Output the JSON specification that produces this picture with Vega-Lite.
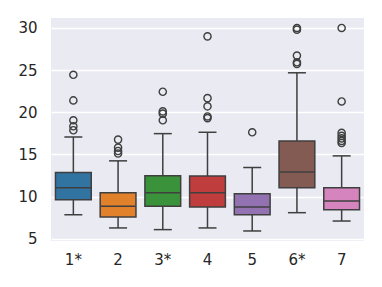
{
  "$schema": "https://vega.github.io/schema/vega-lite/v6.json",
  "width": 313,
  "height": 223,
  "autosize": {"type": "none"},
  "padding": {"left": 51, "top": 18, "right": 18, "bottom": 46},
  "background": "white",
  "config": {
    "view": {"fill": "#eaeaf2", "stroke": null},
    "font": "DejaVu Sans",
    "axis": {
      "domain": false,
      "ticks": false,
      "tickSize": 0,
      "gridColor": "white",
      "gridWidth": 1.3,
      "labelColor": "#262626",
      "labelFontSize": 15,
      "labelFont": "DejaVu Sans",
      "title": null
    }
  },
  "datasets": {
    "boxes": [
      {"group": "1*", "lower": 7.84, "q1": 9.61, "median": 11.03, "q3": 12.85, "upper": 17.06},
      {"group": "2", "lower": 6.27, "q1": 7.57, "median": 8.83, "q3": 10.44, "upper": 14.23},
      {"group": "3*", "lower": 6.07, "q1": 8.83, "median": 10.44, "q3": 12.45, "upper": 17.46},
      {"group": "4", "lower": 6.27, "q1": 8.75, "median": 10.44, "q3": 12.42, "upper": 17.62},
      {"group": "5", "lower": 5.91, "q1": 7.84, "median": 8.75, "q3": 10.32, "upper": 13.44},
      {"group": "6*", "lower": 8.08, "q1": 11.03, "median": 12.92, "q3": 16.59, "upper": 24.68},
      {"group": "7", "lower": 7.09, "q1": 8.43, "median": 9.46, "q3": 11.03, "upper": 14.82}
    ],
    "outliers": [
      {"group": "1*", "value": 24.44},
      {"group": "1*", "value": 21.4},
      {"group": "1*", "value": 19.04},
      {"group": "1*", "value": 18.33},
      {"group": "1*", "value": 17.86},
      {"group": "2", "value": 16.75},
      {"group": "2", "value": 15.8},
      {"group": "2", "value": 15.4},
      {"group": "2", "value": 15.1},
      {"group": "3*", "value": 22.43},
      {"group": "3*", "value": 20.1},
      {"group": "3*", "value": 19.83},
      {"group": "3*", "value": 19.04},
      {"group": "4", "value": 29.0},
      {"group": "4", "value": 21.67},
      {"group": "4", "value": 20.7},
      {"group": "4", "value": 19.5},
      {"group": "4", "value": 19.3},
      {"group": "5", "value": 17.62},
      {"group": "6*", "value": 30.0},
      {"group": "6*", "value": 29.8},
      {"group": "6*", "value": 26.72},
      {"group": "6*", "value": 25.93},
      {"group": "6*", "value": 25.74},
      {"group": "7", "value": 30.0},
      {"group": "7", "value": 21.28},
      {"group": "7", "value": 17.55},
      {"group": "7", "value": 17.2},
      {"group": "7", "value": 16.9},
      {"group": "7", "value": 16.6},
      {"group": "7", "value": 16.35}
    ]
  },
  "encoding": {
    "x": {
      "field": "group",
      "type": "nominal",
      "sort": null,
      "scale": {"paddingInner": 0, "paddingOuter": 0},
      "axis": {"labelAngle": 0, "labelPadding": 11, "grid": false}
    }
  },
  "layer": [
    {
      "data": {"name": "boxes"},
      "mark": {"type": "rule", "color": "#3f3f3f", "strokeWidth": 1.5},
      "encoding": {
        "y": {
          "field": "lower",
          "type": "quantitative",
          "scale": {"domain": [4.72, 31.18], "nice": false, "zero": false},
          "axis": {"values": [5, 10, 15, 20, 25, 30], "labelPadding": 14}
        },
        "y2": {"field": "upper"}
      }
    },
    {
      "data": {"name": "boxes"},
      "mark": {"type": "bar", "width": {"band": 0.8}, "stroke": "#3f3f3f", "strokeWidth": 1.5},
      "encoding": {
        "y": {"field": "q1", "type": "quantitative"},
        "y2": {"field": "q3"},
        "fill": {
          "field": "group",
          "type": "nominal",
          "sort": null,
          "scale": {"range": ["#3274a1", "#e1812c", "#3a923a", "#c03d3e", "#9372b2", "#845b53", "#d684bd"]},
          "legend": null
        }
      }
    },
    {
      "data": {"name": "boxes"},
      "mark": {"type": "tick", "color": "#3f3f3f", "thickness": 1.5, "size": 35, "opacity": 1},
      "encoding": {"y": {"field": "median", "type": "quantitative"}}
    },
    {
      "data": {"name": "boxes"},
      "mark": {"type": "tick", "color": "#3f3f3f", "thickness": 1.5, "size": 18, "opacity": 1},
      "encoding": {"y": {"field": "lower", "type": "quantitative"}}
    },
    {
      "data": {"name": "boxes"},
      "mark": {"type": "tick", "color": "#3f3f3f", "thickness": 1.5, "size": 18, "opacity": 1},
      "encoding": {"y": {"field": "upper", "type": "quantitative"}}
    },
    {
      "data": {"name": "outliers"},
      "mark": {"type": "point", "shape": "circle", "filled": false, "stroke": "#3f3f3f", "strokeWidth": 1.4, "size": 52, "opacity": 1},
      "encoding": {"y": {"field": "value", "type": "quantitative"}}
    }
  ]
}
